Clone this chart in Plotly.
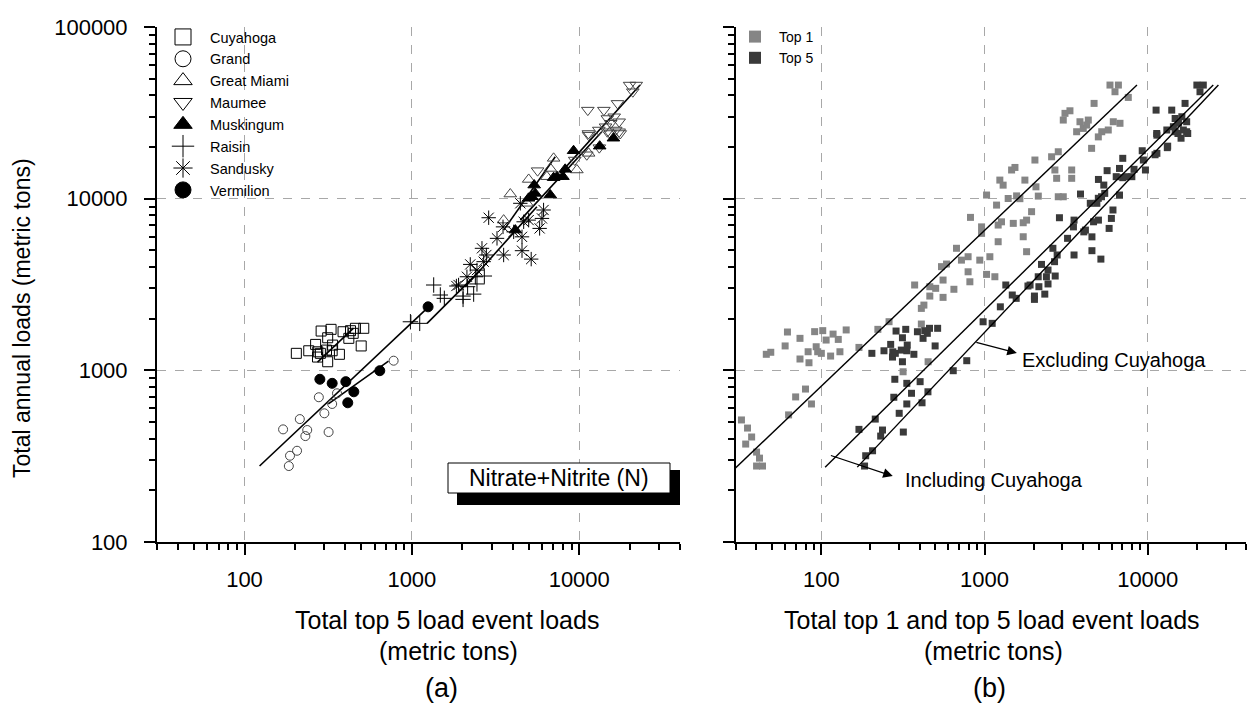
import numpy as np
import plotly.graph_objects as go

# ---------------- data: panel (a) top-5 loads vs annual loads ----------------
cuy_x = [204, 242, 266, 274, 284, 309, 334, 314, 369, 287, 329, 388, 430, 460, 516, 446, 420, 314, 498, 336, 273]
cuy_y = [1256, 1300, 1416, 1282, 1256, 1312, 1300, 1122, 1240, 1694, 1733, 1678, 1702, 1757, 1757, 1643, 1536, 1548, 1387, 1403, 1195]

grand_x = [170, 214, 187, 206, 184, 237, 231, 318, 300, 278, 357, 334, 778]
grand_y = [453, 520, 318, 340, 277, 449, 414, 437, 562, 697, 735, 637, 1138]

gm_x = [3873, 3535, 4988, 7030, 6714, 6410, 11380, 9680, 4877]
gm_y = [10640, 7500, 12940, 17180, 15000, 13430, 18370, 14690, 9397]

maum_x = [20000, 21900, 20900, 16930, 11250, 14030, 16180, 14720, 15420, 17320, 14360, 16520,
          11350, 13090, 14720, 17320, 13180, 11380, 5638, 17580, 15310, 9400, 11090]
maum_y = [45900, 45900, 41970, 35890, 32800, 32800, 30000, 29300, 27500, 28060, 26250, 25120,
          23970, 25120, 24540, 24540, 19820, 23440, 14560, 23970, 23970, 16790, 18020]

musk_x = [9250, 13250, 7030, 8240, 7990, 7370, 5380, 6714, 5450, 4980, 5210, 4150, 16000]
musk_y = [19020, 20220, 13250, 14820, 13430, 13430, 12000, 10500, 10730, 10050, 10260, 6560, 22500]

rais_x = [980, 1114, 1350, 1479, 1563, 2022, 2022, 2340, 2449, 2710, 2153, 2394]
rais_y = [1918, 1878, 3141, 2747, 2626, 2708, 2590, 2780, 3186, 3543, 3070, 3508]

sand_x = [2877, 1901, 1845, 2233, 2623, 2786, 3226, 3535, 4550, 3505, 4057, 4550, 4655, 4988,
          5800, 5988, 6122, 4446, 2449, 2685, 2133, 5163]
sand_y = [7744, 3141, 3099, 4140, 5139, 4698, 5873, 4698, 4977, 6850, 6407, 5993, 7333, 7500,
          6710, 7673, 8590, 9397, 3837, 4295, 3508, 4446]

verm_x = [282, 334, 403, 450, 414, 643, 1250]
verm_y = [887, 840, 859, 750, 647, 995, 2344]

# regression lines of panel (a): [x0, x1], [y0, y1]
fit_a = {
    "Cuyahoga": ([273, 448], [1117, 1762]),
    "Vermilion": ([123, 1254], [277, 2337]),
    "Grand": ([317, 725], [637, 1132]),
    "Raisin": ([1233, 2565], [1879, 3838]),
    "Sandusky": ([2085, 5585], [3070, 8980]),
    "Great Miami": ([3535, 7190], [6560, 17540]),
    "Muskingum": ([4446, 13650], [7500, 24540]),
    "Maumee": ([7710, 23100], [14090, 45900]),
}

# ---------------- data: panel (b) top-1 loads vs annual loads ----------------
top1_x = [373, 462, 502, 462, 425, 410, 260, 410, 222, 142, 102, 91, 62, 118, 74, 107, 127, 60, 93,
          170, 83, 95, 100, 130, 46, 49, 74, 84, 114, 317, 451,
          32.4, 35.3, 37.4, 34.4, 40.1, 41.8, 40.1, 43.6, 69.6, 80, 87, 63,
          557, 557, 545, 585, 649, 673, 722, 793, 813, 793, 820, 935, 959, 959, 1029, 1078, 1157,
          1029, 1185, 1212, 1270, 1212, 1241, 1300, 1465, 1536, 1396, 1500, 1572, 1647, 1726, 1810,
          1767, 1726, 1810, 1942, 2036, 2066, 2135, 2576, 2830, 2698, 2766, 3420, 3420, 2830, 3037,
          3037, 3111, 3337, 3843, 3667, 4026, 4323, 4224, 4690, 5225, 4980, 5730, 6150, 6760, 4529,
          5870, 6610, 6300, 7600]
top1_y = [3141, 3070, 3004, 2708, 2399, 2295, 1920, 1861, 1733, 1719, 1703, 1680, 1672, 1626, 1536,
          1501, 1514, 1387, 1372, 1360, 1283, 1283, 1256, 1283, 1240, 1274, 1164, 1107, 1211, 981, 1122,
          514, 461, 409, 372, 334, 308, 277, 277, 700, 778, 637, 550,
          3357, 2661, 4018, 4161, 2966, 5140, 4385, 4590, 3280, 3750, 7780, 4385, 6280, 6850, 3622,
          4590, 3509, 10500, 9175, 7020, 7330, 5613, 12830, 11990, 14690, 15200, 10020, 7180, 10380,
          10000, 7240, 7500, 12830, 6000, 4910, 8400, 16790, 11720, 10350, 17540, 18760, 14690, 13140,
          14690, 13140, 10260, 10260, 28700, 31400, 32500, 28060, 24540, 25660, 28700, 26840, 35890,
          24540, 22900, 25120, 28060, 27480, 19640, 45900, 45900, 41970, 38880]

# top-5 points of panel (b) are the same points as panel (a)
top5_x = cuy_x + grand_x + gm_x + maum_x + musk_x + rais_x + sand_x + verm_x
top5_y = cuy_y + grand_y + gm_y + maum_y + musk_y + rais_y + sand_y + verm_y

fit_top1 = ([29.8, 8590], [270, 45900])
fit_incl = ([105.5, 25200], [273, 45900])
fit_excl = ([166, 27100], [273, 45900])

# ---------------- figure ----------------
W, H = 1248, 708
FONT = "Arial, Liberation Sans, sans-serif"
fig = go.Figure()

series = [
    ("Cuyahoga", cuy_x, cuy_y, "square-open", 10, "black"),
    ("Grand", grand_x, grand_y, "circle-open", 9, "#444"),
    ("Great Miami", gm_x, gm_y, "triangle-up-open", 11, "#444"),
    ("Maumee", maum_x, maum_y, "triangle-down-open", 11, "#444"),
    ("Muskingum", musk_x, musk_y, "triangle-up", 11, "black"),
    ("Raisin", rais_x, rais_y, "cross-thin-open", 11, "black"),
    ("Sandusky", sand_x, sand_y, "asterisk-open", 12, "black"),
    ("Vermilion", verm_x, verm_y, "circle", 10, "black"),
]

for name, (fx, fy) in fit_a.items():
    fig.add_trace(go.Scatter(x=fx, y=fy, mode="lines", line=dict(color="black", width=1.6),
                             showlegend=False, xaxis="x", yaxis="y", hoverinfo="skip"))

for name, xs, ys, sym, sz, col in series:
    fig.add_trace(go.Scatter(x=xs, y=ys, mode="markers", name=name, showlegend=False,
                             marker=dict(symbol=sym, size=sz, color=col,
                                         line=dict(color=col, width=1)),
                             xaxis="x", yaxis="y"))
    # legend-only entry with larger symbol
    fig.add_trace(go.Scatter(x=[None], y=[None], mode="markers", name=name, legend="legend",
                             marker=dict(symbol=sym, size=16, color="black",
                                         line=dict(color="black", width=1)),
                             xaxis="x", yaxis="y"))

# panel (b)
fig.add_trace(go.Scatter(x=top1_x, y=top1_y, mode="markers", name="Top 1", legend="legend2",
                         marker=dict(symbol="square", size=7, color="#858585"),
                         xaxis="x2", yaxis="y2"))
fig.add_trace(go.Scatter(x=top5_x, y=top5_y, mode="markers", name="Top 5", legend="legend2",
                         marker=dict(symbol="square", size=7, color="#3a3a3a"),
                         xaxis="x2", yaxis="y2"))
for fx, fy in (fit_top1, fit_incl, fit_excl):
    fig.add_trace(go.Scatter(x=fx, y=fy, mode="lines", line=dict(color="black", width=1.4),
                             showlegend=False, xaxis="x2", yaxis="y2", hoverinfo="skip"))


def px_x(p):
    return p / W


def px_y(p):
    return 1 - p / H


axis_common = dict(
    type="log", showline=True, linecolor="black", linewidth=2,
    ticks="outside", ticklen=11, tickwidth=2, tickcolor="black",
    showgrid=True, gridcolor="#a8a8a8", griddash="dash", gridwidth=1,
    zeroline=False, dtick=1, tickformat="d", automargin=False,
    minor=dict(ticks="outside", ticklen=6, tickwidth=1.5, tickcolor="black", dtick="D1", showgrid=False),
    tickfont=dict(family=FONT, size=22, color="black"),
)

xr = [np.log10(30), np.log10(40000)]
yr = [2, 5]
fig.update_layout(
    width=W, height=H,
    margin=dict(l=0, r=0, t=0, b=0, autoexpand=False),
    paper_bgcolor="white", plot_bgcolor="white",
    font=dict(family=FONT, color="black"),
    xaxis=dict(axis_common, domain=[px_x(157), px_x(680)], range=xr, anchor="y",
               ticklabelstandoff=6),
    yaxis=dict(axis_common, domain=[px_y(542), px_y(27)], range=yr, anchor="x",
               ticklabelstandoff=12),
    xaxis2=dict(axis_common, domain=[px_x(736), px_x(1246)], range=xr, anchor="y2",
                ticklabelstandoff=6),
    yaxis2=dict(axis_common, domain=[px_y(542), px_y(27)], range=yr, anchor="x2",
                showticklabels=False),
    legend=dict(x=px_x(156), y=px_y(21), xanchor="left", yanchor="top",
                bgcolor="rgba(0,0,0,0)", itemwidth=44,
                font=dict(family=FONT, size=14.5, color="black"), itemsizing="trace"),
    legend2=dict(x=px_x(731), y=px_y(21), xanchor="left", yanchor="top",
                 bgcolor="rgba(0,0,0,0)", itemwidth=38,
                 font=dict(family=FONT, size=14, color="black"), itemsizing="constant"),
    showlegend=True,
)

# Nitrate+Nitrite box with shadow
fig.add_shape(type="rect", xref="paper", yref="paper", x0=px_x(457), x1=px_x(680),
              y0=px_y(505), y1=px_y(470), fillcolor="black", line=dict(width=0), layer="above")
fig.add_shape(type="rect", xref="paper", yref="paper", x0=px_x(448), x1=px_x(670),
              y0=px_y(493), y1=px_y(463), fillcolor="white", line=dict(color="black", width=1),
              layer="above")

annots = [
    dict(text="Nitrate+Nitrite (N)", x=px_x(559), y=px_y(478), size=23),
    dict(text="Total top 5 load event loads", x=px_x(447), y=px_y(620), size=25),
    dict(text="(metric tons)", x=px_x(448), y=px_y(651), size=25),
    dict(text="(a)", x=px_x(441), y=px_y(688), size=27),
    dict(text="Total top 1 and top 5 load event loads", x=px_x(992), y=px_y(620), size=25),
    dict(text="(metric tons)", x=px_x(994), y=px_y(651), size=25),
    dict(text="(b)", x=px_x(989), y=px_y(688), size=27),
]
for a in annots:
    fig.add_annotation(text=a["text"], x=a["x"], y=a["y"], xref="paper", yref="paper",
                       xanchor="center", yanchor="middle", showarrow=False,
                       font=dict(family=FONT, size=a["size"], color="black"))
fig.add_annotation(text="Total annual loads (metric tons)", x=px_x(22), y=px_y(318),
                   xref="paper", yref="paper", textangle=-90, showarrow=False,
                   xanchor="center", yanchor="middle",
                   font=dict(family=FONT, size=23, color="black"))

# arrows + labels in panel (b)
L = np.log10
fig.add_annotation(x=L(1578), y=L(1262), ax=L(872), ay=L(1462), xref="x2", yref="y2",
                   axref="x2", ayref="y2", text="", showarrow=True, arrowhead=2,
                   arrowsize=1.6, arrowwidth=1.2, arrowcolor="black")
fig.add_annotation(x=L(1648), y=L(1148), xref="x2", yref="y2", text="Excluding Cuyahoga",
                   showarrow=False, xanchor="left", yanchor="middle",
                   font=dict(family=FONT, size=20, color="black"))
fig.add_annotation(x=L(274), y=L(242), ax=L(112), ay=L(321), xref="x2", yref="y2",
                   axref="x2", ayref="y2", text="", showarrow=True, arrowhead=2,
                   arrowsize=1.6, arrowwidth=1.2, arrowcolor="black")
fig.add_annotation(x=L(315), y=L(230), xref="x2", yref="y2", text="Including Cuyahoga",
                   showarrow=False, xanchor="left", yanchor="middle",
                   font=dict(family=FONT, size=20, color="black"))

fig.write_html("out.html")
